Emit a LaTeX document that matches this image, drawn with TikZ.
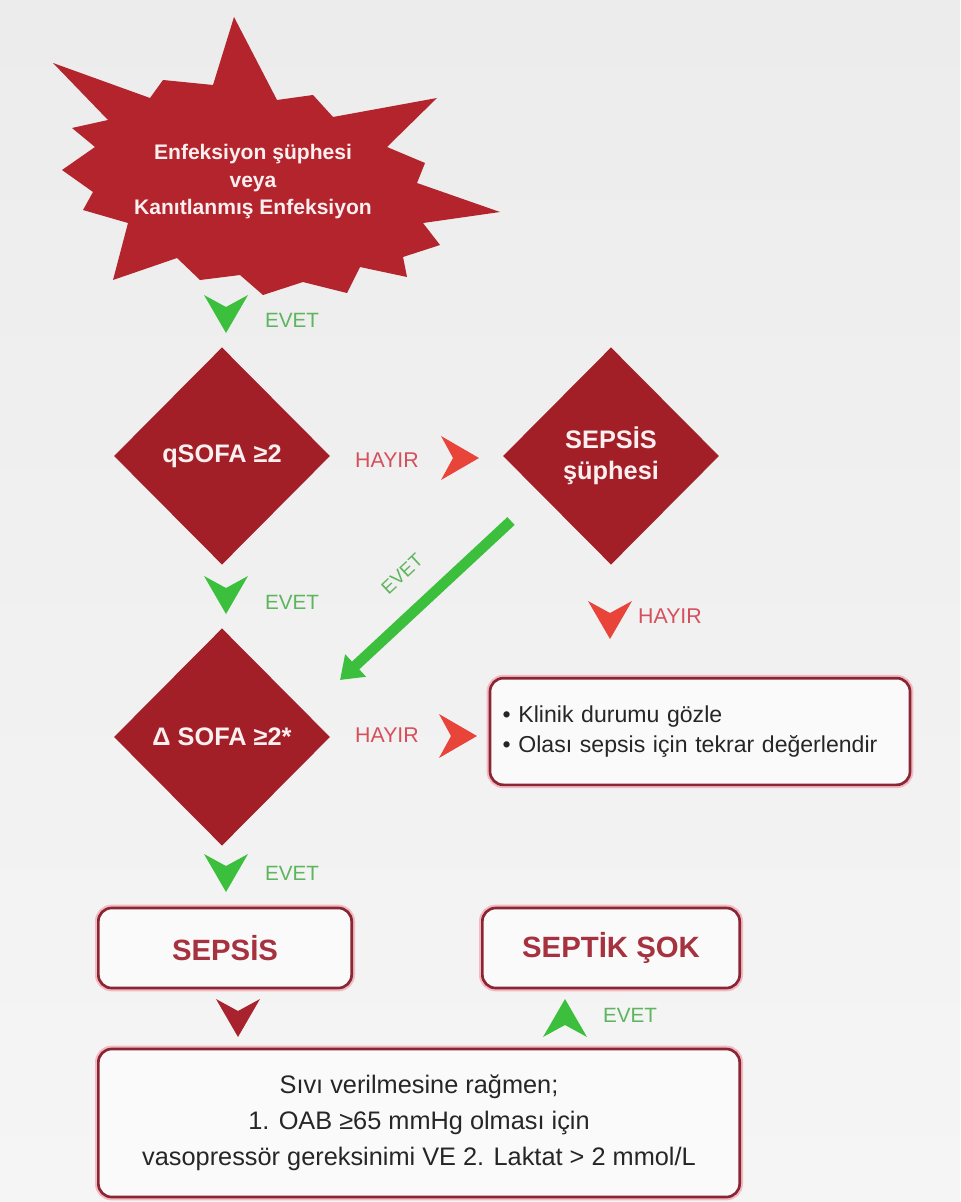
\documentclass[tikz,border=0pt]{standalone}
\usepackage{fontspec}
\setmainfont{Liberation Sans}
\usetikzlibrary{shapes.geometric,arrows.meta}
\definecolor{burst}{HTML}{B3242C}
\definecolor{dia}{HTML}{A21F28}
\definecolor{gr}{HTML}{3CBF3C}
\definecolor{grtext}{HTML}{5DB55D}
\definecolor{rd}{HTML}{E8443A}
\definecolor{rdtext}{HTML}{D6505C}
\definecolor{boxline}{HTML}{8A2634}
\definecolor{boxglow}{HTML}{F2BAC2}
\definecolor{boxtext}{HTML}{A5323E}
\definecolor{bgtop}{HTML}{ECECEC}
\definecolor{bgbot}{HTML}{F5F5F5}
\definecolor{wtext}{HTML}{FBEFF0}
\definecolor{darkred}{HTML}{A8232D}
\begin{document}
\begin{tikzpicture}[x=0.75pt,y=-0.75pt,
  diam/.style={diamond, fill=dia, inner sep=0pt, minimum width=162pt, minimum height=163pt,
    text=wtext, font=\fontsize{19}{23}\selectfont\bfseries, align=center},
  rbox/.style={draw=boxline, line width=2pt, rounded corners=10pt, fill=white!55!bgbot,
    preaction={draw=boxglow, line width=5pt, rounded corners=10pt}},
  big/.style={font=\fontsize{22}{26}\selectfont\bfseries, text=boxtext},
  yes/.style={text=grtext, font=\fontsize{15.5}{17}\selectfont},
  no/.style={text=rdtext, font=\fontsize{16}{18}\selectfont},
  chev/.pic={\fill[pic actions] (-22,-19) -- (0,-7) -- (22,-19) -- (0,19) -- cycle;}
]
\shade[top color=bgtop, bottom color=bgbot] (0,0) rectangle (960,1202);
\useasboundingbox (0,0) rectangle (960,1202);

% starburst
\fill[burst] (234,17) -- (277,100) -- (313,95) -- (333,117) -- (437,98) -- (387,147)
  -- (425,163) -- (417,183) -- (500,212) -- (423,223) -- (440,245) -- (403,257)
  -- (407,277) -- (360,267) -- (347,293) -- (303,282) -- (263,295) -- (240,275)
  -- (200,280) -- (177,258) -- (113,280) -- (128,223) -- (83,210) -- (93,192)
  -- (62,170) -- (95,147) -- (72,128) -- (108,120) -- (53,63) -- (150,98)
  -- (163,80) -- (213,85) -- cycle;
\node[text=wtext, font=\fontsize{15.8}{20.6}\selectfont\bfseries, align=center] (start) at (253,182)
  {Enfeksiyon şüphesi\\veya\\Kanıtlanmış Enfeksiyon};

% diamonds
\node[diam] (q) at (222,456) {qSOFA ≥2};
\node[diam] (s) at (611,456) {SEPSİS\\şüphesi};
\node[diam] (d) at (222,737) {Δ SOFA ≥2*};

% boxes
\node[rbox, minimum width=315pt, minimum height=80pt, text width=296pt, align=left,
  font=\fontsize{17.3}{22.5}\selectfont, text=black!85] (k) at (700,731.5)
  {• Klinik durumu gözle\\• Olası sepsis için tekrar değerlendir};
\node[rbox, big, minimum width=190pt, minimum height=60pt] (sep) at (225,948) {SEPSİS};
\node[rbox, big, minimum width=193pt, minimum height=60pt] (sok) at (611,948) {SEPTİK ŞOK};
\node[rbox, minimum width=481pt, minimum height=111pt, align=center,
  font=\fontsize{19}{27}\selectfont, text=black!85] (vb) at (419,1123)
  {Sıvı verilmesine rağmen;\\1. OAB ≥65 mmHg olması için\\vasopressör gereksinimi VE 2. Laktat > 2 mmol/L};

% chevrons and labels
\pic[fill=gr] at (226,314) {chev};
\node[yes] (e1) at (292,320) {EVET};
\pic[fill=rd, rotate=90] at (460,458) {chev};
\node[no] (h1) at (387,460) {HAYIR};
\pic[fill=gr] at (226,595) {chev};
\node[yes] (e2) at (292,602) {EVET};
\pic[fill=rd] at (610,620) {chev};
\node[no] (h2) at (670,616) {HAYIR};
\pic[fill=rd, rotate=90] at (458,736) {chev};
\node[no] (h3) at (387,735) {HAYIR};
\pic[fill=gr] at (226,873) {chev};
\node[yes] (e3) at (292,873) {EVET};
\pic[fill=darkred] at (238,1018) {chev};
\pic[fill=gr, rotate=180] at (565,1018) {chev};
\node[yes] (e4) at (630,1015) {EVET};

% diagonal arrow
\coordinate (a1) at (511,521);
\coordinate (a2) at (340,680);
\draw[gr, line width=8pt, -{Triangle[length=16pt,width=22pt]}] (a1) -- (a2);
\node[yes, rotate=43, font=\fontsize{14}{16}\selectfont] (e5) at (402,574) {EVET};
\end{tikzpicture}
\end{document}
